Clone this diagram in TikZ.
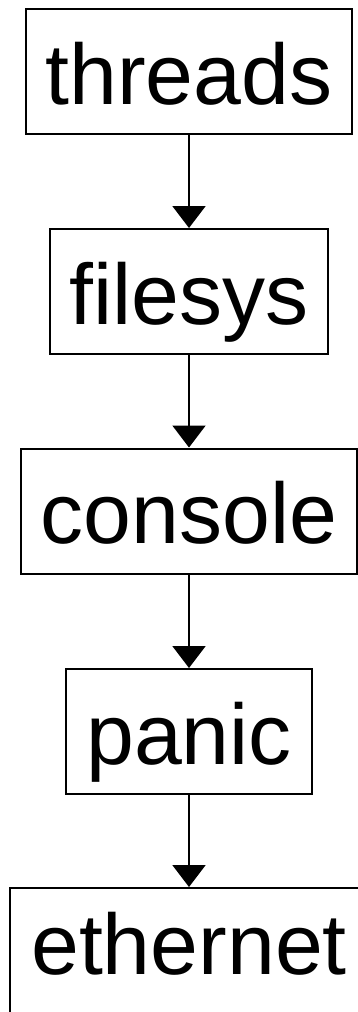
\documentclass[tikz,border=0pt]{standalone}
\usepackage{fontspec}
\setmainfont{Liberation Sans}
\usepackage{tikz}
\usetikzlibrary{arrows.meta, positioning}

\begin{document}
\begin{tikzpicture}[x=1pt,y=-1pt,
    modbox/.style={draw,line width=2pt,rectangle,inner xsep=20pt,inner ysep=0pt,
        text height=95pt,text depth=30pt,font=\fontsize{86}{100}\selectfont},
    dep/.style={-{Triangle[width=33pt,length=22pt]},line width=2pt}]
                \useasboundingbox (0,0) rectangle (358,1012);

                % Modules
                \node[modbox] (threads) at (189,71.5) {threads};
                \node[modbox] (filesys) at (189,291.5) {filesys};
                \node[modbox] (console) at (189,511) {console};
                \node[modbox] (panic) at (189,731.5) {panic};
                \node[modbox,minimum width=358pt,text height=86pt,text depth=50pt] (ethernet) at (189,956) {ethernet};

                % Edges
                \draw[dep] (threads) -- (filesys);
                \draw[dep] (filesys) -- (console);
                \draw[dep] (console) -- (panic);
                \draw[dep] (panic) -- (ethernet);
            \end{tikzpicture}
\end{document}
